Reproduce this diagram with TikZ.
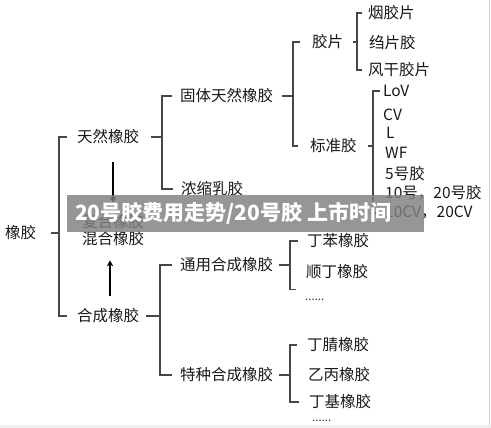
\documentclass[tikz,border=0pt]{standalone}
\usepackage{fontspec}
\setmainfont{Noto Sans CJK SC}
\usetikzlibrary{arrows.meta}
\newcommand\brk[6]{%
  \draw[br] ([xshift=#2]#1.east) -- (#1.east -| #3,0);
  \draw[br] ([xshift=-#6]#4) -- (#4 -| #3,0) -- (#5 -| #3,0) -- ([xshift=-#6]#5);}
\begin{document}
\begin{tikzpicture}[x=1pt,y=-1pt,
  t/.style={anchor=west, inner sep=0pt, font=\fontsize{15.5}{18}\selectfont, text=black!90},
  dots/.style={anchor=base west, inner sep=0pt, font=\fontsize{11.5}{12}\selectfont, text=black!80},
  br/.style={draw=black!72, line width=1.1pt},
  arr/.style={draw=black, line width=2.4pt, -{Stealth[length=6pt,width=6.5pt]}}]
\fill[white] (0,0) rectangle (491,428);
\useasboundingbox (0,0) rectangle (491,428);
\fill[black!6] (0,425) rectangle (491,428);
\fill[black!18] (488.5,0) rectangle (490,425);
% nodes
\node[t] (r) at (5,233) {橡胶};
\node[t] (n1) at (77,137) {天然橡胶};
\node[t] (n2) at (77,316) {合成橡胶};
\node[t] (mix1) at (82,222) {复合橡胶};
\node[t] (mix2) at (82,239) {混合橡胶};
\node[t] (a1) at (180,96) {固体天然橡胶};
\node[t] (a2) at (181,189) {浓缩乳胶};
\node[t] (b1) at (312,42) {胶片};
\node[t] (b2) at (310,146) {标准胶};
\node[t] (c1) at (368,13) {烟胶片};
\node[t] (c2) at (369,43) {绉片胶};
\node[t] (c3) at (368,70) {风干胶片};
\node[t] (d1) at (383,91) {LoV};
\node[t] (d2) at (383,115) {CV};
\node[t] (d3) at (386,133) {L};
\node[t] (d4) at (385,153) {WF};
\node[t] (d5) at (385,174) {5号胶};
\node[t] (d6) at (385,193) {10号，20号胶};
\node[t] (d7) at (385,213) {10CV，20CV};
\node[t] (e1) at (180,265) {通用合成橡胶};
\node[t] (e2) at (180,375) {特种合成橡胶};
\node[t] (f1) at (307,241) {丁苯橡胶};
\node[t] (f2) at (306,272) {顺丁橡胶};
\node[dots] (f3) at (305,301) {......};
\node[t] (g1) at (307,345) {丁腈橡胶};
\node[t] (g2) at (308,375) {乙丙橡胶};
\node[t] (g3) at (309,402) {丁基橡胶};
\node[dots] (g4) at (312,421) {......};
\coordinate (f3t) at ([yshift=10pt]f3.north west);
% brackets
\brk{r}{15}{59}{n1.west}{n2.west}{10}
\brk{n1}{12}{162}{a1.west}{a2.west}{8}
\brk{n2}{7}{160}{e1.west}{e2.west}{8}
\brk{a1}{9}{293}{b1.west}{b2.west}{12}
\brk{b1}{10}{357}{c1.west}{c3.west}{6}
\brk{b2}{11}{373}{d1.west}{d7.west}{3}
\brk{e1}{6}{290}{f1.west}{f3t}{9}
\brk{e2}{6}{290}{g1.west}{g3.west}{10}
% arrows
\draw[arr, shorten <=18pt, shorten >=12pt] (n1.south -| 113,0) -- (mix1.north -| 113,0);
\draw[arr, shorten <=13pt, shorten >=14pt] (n2.north -| 110,0) -- (mix2.south -| 110,0);
% banner
\fill[black!50, opacity=0.82] (67,195) rectangle (424,232);
\node[anchor=west, inner sep=0pt, text=white, font=\bfseries\fontsize{21}{24}\selectfont] (ban) at (75,213.5) {20号胶费用走势/20号胶 上市时间};
\end{tikzpicture}
\end{document}
